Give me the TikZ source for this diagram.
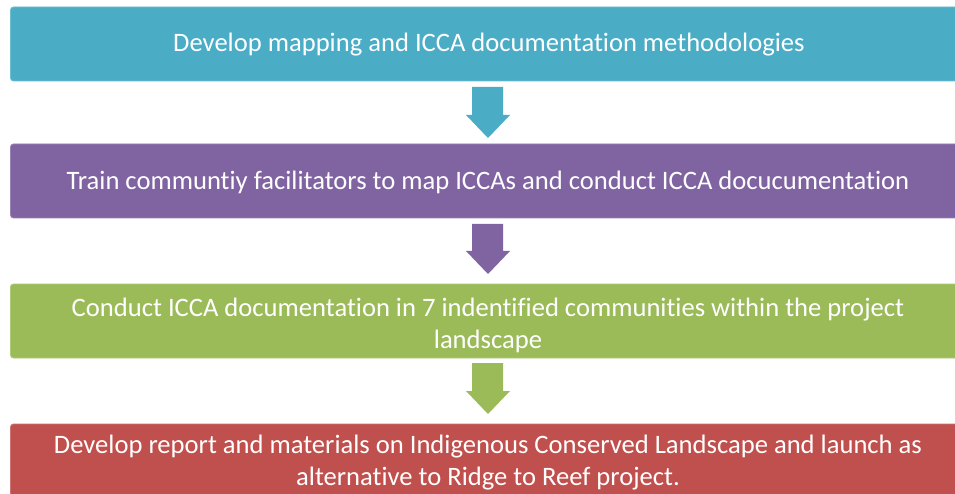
\documentclass[tikz,border=0pt]{standalone}
\usepackage{fontspec}
\setmainfont{Carlito}[Ligatures=NoCommon]
\definecolor{cteal}{HTML}{4BACC6}
\definecolor{cpurp}{HTML}{8064A2}
\definecolor{cgreen}{HTML}{9BBB59}
\definecolor{cred}{HTML}{C0504D}
\tikzset{
  stagebox/.style={rounded corners=3pt, draw=#1!80!white, line width=0.8pt, fill=#1},
  stagetext/.style={text=white, align=center, font=\fontsize{26.6}{32}\selectfont, inner sep=0pt},
}
\newcommand\blkarrow[3]{%
  \fill[#3] (472,#1) -- (503,#1) -- (503,#2-23) -- (510,#2-23) -- (488,#2) -- (466,#2-23) -- (472,#2-23) -- cycle;}
\begin{document}
\begin{tikzpicture}[x=1pt,y=-1pt]
\useasboundingbox (0,0) rectangle (955,494);
\clip (0,0) rectangle (955,494);
\fill[white] (0,0) rectangle (955,494);
% boxes
\path[stagebox=cteal] (10.5,7) rectangle (968,81);
\path[stagebox=cpurp] (10.5,144) rectangle (968,218);
\path[stagebox=cgreen] (10.5,284) rectangle (968,358);
\path[stagebox=cred] (10.5,424) rectangle (968,498);
\node[stagetext] (t1) at (489,45) {Develop mapping and ICCA documentation methodologies};
\node[stagetext] (t2) at (488,182) {Train communtiy facilitators to map ICCAs and conduct ICCA docucumentation};
\node[stagetext] (t3) at (488,325) {Conduct ICCA documentation in 7 indentified communities within the project\\landscape};
\node[stagetext] (t4) at (488,463) {Develop report and materials on Indigenous Conserved Landscape and launch as\\alternative to Ridge to Reef project.};
% arrows
\blkarrow{87}{138}{cteal}
\blkarrow{224}{274}{cpurp}
\blkarrow{363}{414}{cgreen}
\end{tikzpicture}
\end{document}
